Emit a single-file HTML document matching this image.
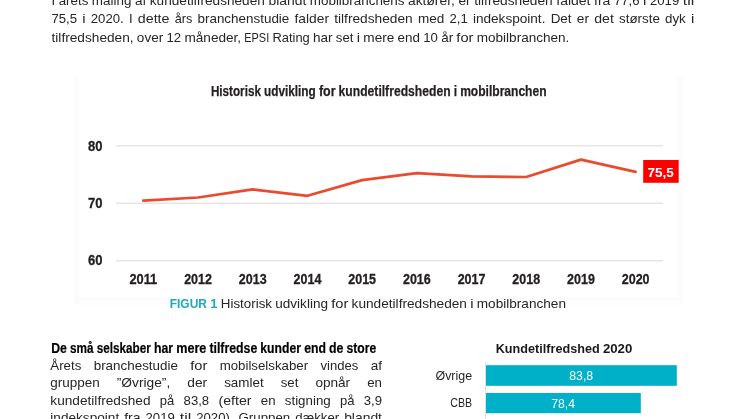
<!DOCTYPE html>
<html><head><meta charset="utf-8"><style>
html,body{margin:0;padding:0;background:#fff;width:746px;height:419px;overflow:hidden}
svg{display:block;font-family:"Liberation Sans", sans-serif;will-change:transform}
</style></head><body>
<svg width="746" height="419" viewBox="0 0 746 419">
<text x="51.50" y="4.80" font-size="13.37" font-weight="normal" fill="#262626" textLength="3.64" lengthAdjust="spacingAndGlyphs">I</text><text x="58.69" y="4.80" font-size="13.37" font-weight="normal" fill="#262626" textLength="29.64" lengthAdjust="spacingAndGlyphs">årets</text><text x="91.89" y="4.80" font-size="13.37" font-weight="normal" fill="#262626" textLength="39.49" lengthAdjust="spacingAndGlyphs">måling</text><text x="134.93" y="4.80" font-size="13.37" font-weight="normal" fill="#262626" textLength="11.33" lengthAdjust="spacingAndGlyphs">af</text><text x="149.81" y="4.80" font-size="13.37" font-weight="normal" fill="#262626" textLength="115.04" lengthAdjust="spacingAndGlyphs">kundetilfredsheden</text><text x="268.41" y="4.80" font-size="13.37" font-weight="normal" fill="#262626" textLength="37.85" lengthAdjust="spacingAndGlyphs">blandt</text><text x="309.81" y="4.80" font-size="13.37" font-weight="normal" fill="#262626" textLength="94.67" lengthAdjust="spacingAndGlyphs">mobilbranchens</text><text x="408.03" y="4.80" font-size="13.37" font-weight="normal" fill="#262626" textLength="46.82" lengthAdjust="spacingAndGlyphs">aktører,</text><text x="458.40" y="4.80" font-size="13.37" font-weight="normal" fill="#262626" textLength="12.23" lengthAdjust="spacingAndGlyphs">er</text><text x="474.18" y="4.80" font-size="13.37" font-weight="normal" fill="#262626" textLength="78.51" lengthAdjust="spacingAndGlyphs">tilfredsheden</text><text x="556.24" y="4.80" font-size="13.37" font-weight="normal" fill="#262626" textLength="34.27" lengthAdjust="spacingAndGlyphs">faldet</text><text x="594.06" y="4.80" font-size="13.37" font-weight="normal" fill="#262626" textLength="16.37" lengthAdjust="spacingAndGlyphs">fra</text><text x="613.98" y="4.80" font-size="13.37" font-weight="normal" fill="#262626" textLength="25.58" lengthAdjust="spacingAndGlyphs">77,6</text><text x="643.11" y="4.80" font-size="13.37" font-weight="normal" fill="#262626" textLength="3.32" lengthAdjust="spacingAndGlyphs">i</text><text x="649.98" y="4.80" font-size="13.37" font-weight="normal" fill="#262626" textLength="29.30" lengthAdjust="spacingAndGlyphs">2019</text><text x="682.83" y="4.80" font-size="13.37" font-weight="normal" fill="#262626" textLength="11.47" lengthAdjust="spacingAndGlyphs">til</text>
<text x="51.50" y="22.90" font-size="13.37" font-weight="normal" fill="#262626" textLength="25.58" lengthAdjust="spacingAndGlyphs">75,5</text><text x="82.29" y="22.90" font-size="13.37" font-weight="normal" fill="#262626" textLength="3.32" lengthAdjust="spacingAndGlyphs">i</text><text x="90.81" y="22.90" font-size="13.37" font-weight="normal" fill="#262626" textLength="32.94" lengthAdjust="spacingAndGlyphs">2020.</text><text x="128.96" y="22.90" font-size="13.37" font-weight="normal" fill="#262626" textLength="3.64" lengthAdjust="spacingAndGlyphs">I</text><text x="137.82" y="22.90" font-size="13.37" font-weight="normal" fill="#262626" textLength="31.65" lengthAdjust="spacingAndGlyphs">dette</text><text x="174.68" y="22.90" font-size="13.37" font-weight="normal" fill="#262626" textLength="17.61" lengthAdjust="spacingAndGlyphs">års</text><text x="197.50" y="22.90" font-size="13.37" font-weight="normal" fill="#262626" textLength="91.81" lengthAdjust="spacingAndGlyphs">branchenstudie</text><text x="294.51" y="22.90" font-size="13.37" font-weight="normal" fill="#262626" textLength="34.47" lengthAdjust="spacingAndGlyphs">falder</text><text x="334.19" y="22.90" font-size="13.37" font-weight="normal" fill="#262626" textLength="78.51" lengthAdjust="spacingAndGlyphs">tilfredsheden</text><text x="417.91" y="22.90" font-size="13.37" font-weight="normal" fill="#262626" textLength="26.32" lengthAdjust="spacingAndGlyphs">med</text><text x="449.44" y="22.90" font-size="13.37" font-weight="normal" fill="#262626" textLength="18.25" lengthAdjust="spacingAndGlyphs">2,1</text><text x="472.91" y="22.90" font-size="13.37" font-weight="normal" fill="#262626" textLength="72.52" lengthAdjust="spacingAndGlyphs">indekspoint.</text><text x="550.63" y="22.90" font-size="13.37" font-weight="normal" fill="#262626" textLength="20.92" lengthAdjust="spacingAndGlyphs">Det</text><text x="576.76" y="22.90" font-size="13.37" font-weight="normal" fill="#262626" textLength="12.23" lengthAdjust="spacingAndGlyphs">er</text><text x="594.20" y="22.90" font-size="13.37" font-weight="normal" fill="#262626" textLength="19.62" lengthAdjust="spacingAndGlyphs">det</text><text x="619.03" y="22.90" font-size="13.37" font-weight="normal" fill="#262626" textLength="40.83" lengthAdjust="spacingAndGlyphs">største</text><text x="665.07" y="22.90" font-size="13.37" font-weight="normal" fill="#262626" textLength="20.70" lengthAdjust="spacingAndGlyphs">dyk</text><text x="690.98" y="22.90" font-size="13.37" font-weight="normal" fill="#262626" textLength="3.32" lengthAdjust="spacingAndGlyphs">i</text>
<text x="51.50" y="41.70" font-size="13.37" font-weight="normal" fill="#262626" textLength="82.11" lengthAdjust="spacingAndGlyphs">tilfredsheden,</text><text x="136.88" y="41.70" font-size="13.37" font-weight="normal" fill="#262626" textLength="26.37" lengthAdjust="spacingAndGlyphs">over</text><text x="166.52" y="41.70" font-size="13.37" font-weight="normal" fill="#262626" textLength="14.65" lengthAdjust="spacingAndGlyphs">12</text><text x="184.44" y="41.70" font-size="13.37" font-weight="normal" fill="#262626" textLength="56.67" lengthAdjust="spacingAndGlyphs">måneder,</text><text x="244.37" y="41.70" font-size="13.37" font-weight="normal" fill="#262626" textLength="24.80" lengthAdjust="spacingAndGlyphs">EPSI</text><text x="272.44" y="41.70" font-size="13.37" font-weight="normal" fill="#262626" textLength="37.32" lengthAdjust="spacingAndGlyphs">Rating</text><text x="313.03" y="41.70" font-size="13.37" font-weight="normal" fill="#262626" textLength="19.55" lengthAdjust="spacingAndGlyphs">har</text><text x="335.84" y="41.70" font-size="13.37" font-weight="normal" fill="#262626" textLength="17.68" lengthAdjust="spacingAndGlyphs">set</text><text x="356.79" y="41.70" font-size="13.37" font-weight="normal" fill="#262626" textLength="3.32" lengthAdjust="spacingAndGlyphs">i</text><text x="363.37" y="41.70" font-size="13.37" font-weight="normal" fill="#262626" textLength="30.96" lengthAdjust="spacingAndGlyphs">mere</text><text x="397.60" y="41.70" font-size="13.37" font-weight="normal" fill="#262626" textLength="22.37" lengthAdjust="spacingAndGlyphs">end</text><text x="423.24" y="41.70" font-size="13.37" font-weight="normal" fill="#262626" textLength="14.65" lengthAdjust="spacingAndGlyphs">10</text><text x="441.16" y="41.70" font-size="13.37" font-weight="normal" fill="#262626" textLength="11.96" lengthAdjust="spacingAndGlyphs">år</text><text x="456.38" y="41.70" font-size="13.37" font-weight="normal" fill="#262626" textLength="17.07" lengthAdjust="spacingAndGlyphs">for</text><text x="476.72" y="41.70" font-size="13.37" font-weight="normal" fill="#262626" textLength="92.66" lengthAdjust="spacingAndGlyphs">mobilbranchen.</text>
<rect x="74" y="75" width="608.5" height="229.6" fill="#fcfcfc"/>
<rect x="79" y="70" width="599" height="227" fill="#ffffff"/>
<text x="210.90" y="96.00" font-size="14.54" font-weight="bold" fill="#231f20" stroke="#231f20" stroke-width="0.25" textLength="50.03" lengthAdjust="spacingAndGlyphs">Historisk</text><text x="264.03" y="96.00" font-size="14.54" font-weight="bold" fill="#231f20" stroke="#231f20" stroke-width="0.25" textLength="51.74" lengthAdjust="spacingAndGlyphs">udvikling</text><text x="318.88" y="96.00" font-size="14.54" font-weight="bold" fill="#231f20" stroke="#231f20" stroke-width="0.25" textLength="16.62" lengthAdjust="spacingAndGlyphs">for</text><text x="338.60" y="96.00" font-size="14.54" font-weight="bold" fill="#231f20" stroke="#231f20" stroke-width="0.25" textLength="111.95" lengthAdjust="spacingAndGlyphs">kundetilfredsheden</text><text x="453.65" y="96.00" font-size="14.54" font-weight="bold" fill="#231f20" stroke="#231f20" stroke-width="0.25" textLength="3.39" lengthAdjust="spacingAndGlyphs">i</text><text x="460.14" y="96.00" font-size="14.54" font-weight="bold" fill="#231f20" stroke="#231f20" stroke-width="0.25" textLength="86.42" lengthAdjust="spacingAndGlyphs">mobilbranchen</text>
<line x1="116" y1="145.8" x2="663" y2="145.8" stroke="#ebe4e4" stroke-width="1.5"/>
<line x1="116" y1="203.3" x2="663" y2="203.3" stroke="#ebe4e4" stroke-width="1.5"/>
<line x1="116" y1="260.7" x2="663" y2="260.7" stroke="#ebe4e4" stroke-width="1.5"/>
<text x="88.00" y="150.60" font-size="14.83" font-weight="bold" fill="#231f20" text-anchor="start" stroke="#231f20" stroke-width="0.3" textLength="14.50" lengthAdjust="spacingAndGlyphs">80</text>
<text x="88.00" y="208.00" font-size="14.83" font-weight="bold" fill="#231f20" text-anchor="start" stroke="#231f20" stroke-width="0.3" textLength="14.50" lengthAdjust="spacingAndGlyphs">70</text>
<text x="88.00" y="265.40" font-size="14.83" font-weight="bold" fill="#231f20" text-anchor="start" stroke="#231f20" stroke-width="0.3" textLength="14.50" lengthAdjust="spacingAndGlyphs">60</text>
<polyline points="143.35,200.7 198.05,197.5 252.75,189.4 307.45,195.8 362.15,180.1 416.85,173.2 471.55,176.4 526.25,177.0 580.95,159.6 635.65,171.8" fill="none" stroke="#ea4b2f" stroke-width="2.75" stroke-linejoin="round" stroke-linecap="round"/>
<rect x="643.2" y="160" width="35.5" height="22.8" fill="#ff0000"/>
<text x="647.60" y="176.90" font-size="13.66" font-weight="bold" fill="#ffffff" text-anchor="start" textLength="26.20" lengthAdjust="spacingAndGlyphs">75,5</text>
<text x="143.35" y="284.30" font-size="14.24" font-weight="bold" fill="#231f20" text-anchor="middle" stroke="#231f20" stroke-width="0.3" textLength="27.80" lengthAdjust="spacingAndGlyphs">2011</text>
<text x="198.05" y="284.30" font-size="14.24" font-weight="bold" fill="#231f20" text-anchor="middle" stroke="#231f20" stroke-width="0.3" textLength="27.80" lengthAdjust="spacingAndGlyphs">2012</text>
<text x="252.75" y="284.30" font-size="14.24" font-weight="bold" fill="#231f20" text-anchor="middle" stroke="#231f20" stroke-width="0.3" textLength="27.80" lengthAdjust="spacingAndGlyphs">2013</text>
<text x="307.45" y="284.30" font-size="14.24" font-weight="bold" fill="#231f20" text-anchor="middle" stroke="#231f20" stroke-width="0.3" textLength="27.80" lengthAdjust="spacingAndGlyphs">2014</text>
<text x="362.15" y="284.30" font-size="14.24" font-weight="bold" fill="#231f20" text-anchor="middle" stroke="#231f20" stroke-width="0.3" textLength="27.80" lengthAdjust="spacingAndGlyphs">2015</text>
<text x="416.85" y="284.30" font-size="14.24" font-weight="bold" fill="#231f20" text-anchor="middle" stroke="#231f20" stroke-width="0.3" textLength="27.80" lengthAdjust="spacingAndGlyphs">2016</text>
<text x="471.55" y="284.30" font-size="14.24" font-weight="bold" fill="#231f20" text-anchor="middle" stroke="#231f20" stroke-width="0.3" textLength="27.80" lengthAdjust="spacingAndGlyphs">2017</text>
<text x="526.25" y="284.30" font-size="14.24" font-weight="bold" fill="#231f20" text-anchor="middle" stroke="#231f20" stroke-width="0.3" textLength="27.80" lengthAdjust="spacingAndGlyphs">2018</text>
<text x="580.95" y="284.30" font-size="14.24" font-weight="bold" fill="#231f20" text-anchor="middle" stroke="#231f20" stroke-width="0.3" textLength="27.80" lengthAdjust="spacingAndGlyphs">2019</text>
<text x="635.65" y="284.30" font-size="14.24" font-weight="bold" fill="#231f20" text-anchor="middle" stroke="#231f20" stroke-width="0.3" textLength="27.80" lengthAdjust="spacingAndGlyphs">2020</text>
<text x="169.70" y="307.60" font-size="12.94" font-weight="bold" fill="#1ba9c3" textLength="37.28" lengthAdjust="spacingAndGlyphs">FIGUR</text><text x="210.26" y="307.60" font-size="12.94" font-weight="bold" fill="#1ba9c3" textLength="7.34" lengthAdjust="spacingAndGlyphs">1</text><text x="220.87" y="307.60" font-size="12.94" font-weight="normal" fill="#262626" textLength="51.11" lengthAdjust="spacingAndGlyphs">Historisk</text><text x="275.25" y="307.60" font-size="12.94" font-weight="normal" fill="#262626" textLength="52.73" lengthAdjust="spacingAndGlyphs">udvikling</text><text x="331.26" y="307.60" font-size="12.94" font-weight="normal" fill="#262626" textLength="17.10" lengthAdjust="spacingAndGlyphs">for</text><text x="351.63" y="307.60" font-size="12.94" font-weight="normal" fill="#262626" textLength="115.28" lengthAdjust="spacingAndGlyphs">kundetilfredsheden</text><text x="470.19" y="307.60" font-size="12.94" font-weight="normal" fill="#262626" textLength="3.32" lengthAdjust="spacingAndGlyphs">i</text><text x="476.78" y="307.60" font-size="12.94" font-weight="normal" fill="#262626" textLength="89.20" lengthAdjust="spacingAndGlyphs">mobilbranchen</text>
<text x="51.20" y="352.50" font-size="14.10" font-weight="bold" fill="#000000" stroke="#000000" stroke-width="0.2" textLength="15.68" lengthAdjust="spacingAndGlyphs">De</text><text x="70.01" y="352.50" font-size="14.10" font-weight="bold" fill="#000000" stroke="#000000" stroke-width="0.2" textLength="23.60" lengthAdjust="spacingAndGlyphs">små</text><text x="96.74" y="352.50" font-size="14.10" font-weight="bold" fill="#000000" stroke="#000000" stroke-width="0.2" textLength="54.11" lengthAdjust="spacingAndGlyphs">selskaber</text><text x="153.97" y="352.50" font-size="14.10" font-weight="bold" fill="#000000" stroke="#000000" stroke-width="0.2" textLength="19.13" lengthAdjust="spacingAndGlyphs">har</text><text x="176.23" y="352.50" font-size="14.10" font-weight="bold" fill="#000000" stroke="#000000" stroke-width="0.2" textLength="30.11" lengthAdjust="spacingAndGlyphs">mere</text><text x="209.46" y="352.50" font-size="14.10" font-weight="bold" fill="#000000" stroke="#000000" stroke-width="0.2" textLength="47.76" lengthAdjust="spacingAndGlyphs">tilfredse</text><text x="260.34" y="352.50" font-size="14.10" font-weight="bold" fill="#000000" stroke="#000000" stroke-width="0.2" textLength="40.68" lengthAdjust="spacingAndGlyphs">kunder</text><text x="304.15" y="352.50" font-size="14.10" font-weight="bold" fill="#000000" stroke="#000000" stroke-width="0.2" textLength="21.76" lengthAdjust="spacingAndGlyphs">end</text><text x="329.03" y="352.50" font-size="14.10" font-weight="bold" fill="#000000" stroke="#000000" stroke-width="0.2" textLength="14.36" lengthAdjust="spacingAndGlyphs">de</text><text x="346.51" y="352.50" font-size="14.10" font-weight="bold" fill="#000000" stroke="#000000" stroke-width="0.2" textLength="29.65" lengthAdjust="spacingAndGlyphs">store</text>
<text x="50.30" y="369.80" font-size="13.37" font-weight="normal" fill="#262626" textLength="31.08" lengthAdjust="spacingAndGlyphs">Årets</text><text x="93.71" y="369.80" font-size="13.37" font-weight="normal" fill="#262626" textLength="84.22" lengthAdjust="spacingAndGlyphs">branchestudie</text><text x="190.25" y="369.80" font-size="13.37" font-weight="normal" fill="#262626" textLength="17.07" lengthAdjust="spacingAndGlyphs">for</text><text x="219.64" y="369.80" font-size="13.37" font-weight="normal" fill="#262626" textLength="88.51" lengthAdjust="spacingAndGlyphs">mobilselskaber</text><text x="320.47" y="369.80" font-size="13.37" font-weight="normal" fill="#262626" textLength="37.87" lengthAdjust="spacingAndGlyphs">vindes</text><text x="370.67" y="369.80" font-size="13.37" font-weight="normal" fill="#262626" textLength="11.33" lengthAdjust="spacingAndGlyphs">af</text>
<text x="50.30" y="387.20" font-size="13.37" font-weight="normal" fill="#262626" textLength="49.40" lengthAdjust="spacingAndGlyphs">gruppen</text><text x="116.75" y="387.20" font-size="13.37" font-weight="normal" fill="#262626" textLength="53.49" lengthAdjust="spacingAndGlyphs">”Øvrige”,</text><text x="187.29" y="387.20" font-size="13.37" font-weight="normal" fill="#262626" textLength="19.82" lengthAdjust="spacingAndGlyphs">der</text><text x="224.16" y="387.20" font-size="13.37" font-weight="normal" fill="#262626" textLength="39.46" lengthAdjust="spacingAndGlyphs">samlet</text><text x="280.67" y="387.20" font-size="13.37" font-weight="normal" fill="#262626" textLength="17.68" lengthAdjust="spacingAndGlyphs">set</text><text x="315.40" y="387.20" font-size="13.37" font-weight="normal" fill="#262626" textLength="34.76" lengthAdjust="spacingAndGlyphs">opnår</text><text x="367.22" y="387.20" font-size="13.37" font-weight="normal" fill="#262626" textLength="14.78" lengthAdjust="spacingAndGlyphs">en</text>
<text x="50.30" y="404.60" font-size="13.37" font-weight="normal" fill="#262626" textLength="100.26" lengthAdjust="spacingAndGlyphs">kundetilfredshed</text><text x="159.82" y="404.60" font-size="13.37" font-weight="normal" fill="#262626" textLength="14.51" lengthAdjust="spacingAndGlyphs">på</text><text x="183.60" y="404.60" font-size="13.37" font-weight="normal" fill="#262626" textLength="25.58" lengthAdjust="spacingAndGlyphs">83,8</text><text x="218.44" y="404.60" font-size="13.37" font-weight="normal" fill="#262626" textLength="33.06" lengthAdjust="spacingAndGlyphs">(efter</text><text x="260.75" y="404.60" font-size="13.37" font-weight="normal" fill="#262626" textLength="14.78" lengthAdjust="spacingAndGlyphs">en</text><text x="284.80" y="404.60" font-size="13.37" font-weight="normal" fill="#262626" textLength="45.91" lengthAdjust="spacingAndGlyphs">stigning</text><text x="339.97" y="404.60" font-size="13.37" font-weight="normal" fill="#262626" textLength="14.51" lengthAdjust="spacingAndGlyphs">på</text><text x="363.75" y="404.60" font-size="13.37" font-weight="normal" fill="#262626" textLength="18.25" lengthAdjust="spacingAndGlyphs">3,9</text>
<text x="50.30" y="422.00" font-size="13.37" font-weight="normal" fill="#262626" textLength="68.87" lengthAdjust="spacingAndGlyphs">indekspoint</text><text x="124.15" y="422.00" font-size="13.37" font-weight="normal" fill="#262626" textLength="16.37" lengthAdjust="spacingAndGlyphs">fra</text><text x="145.50" y="422.00" font-size="13.37" font-weight="normal" fill="#262626" textLength="29.30" lengthAdjust="spacingAndGlyphs">2019</text><text x="179.78" y="422.00" font-size="13.37" font-weight="normal" fill="#262626" textLength="11.47" lengthAdjust="spacingAndGlyphs">til</text><text x="196.23" y="422.00" font-size="13.37" font-weight="normal" fill="#262626" textLength="37.33" lengthAdjust="spacingAndGlyphs">2020).</text><text x="238.54" y="422.00" font-size="13.37" font-weight="normal" fill="#262626" textLength="51.71" lengthAdjust="spacingAndGlyphs">Gruppen</text><text x="295.24" y="422.00" font-size="13.37" font-weight="normal" fill="#262626" textLength="43.93" lengthAdjust="spacingAndGlyphs">dækker</text><text x="344.15" y="422.00" font-size="13.37" font-weight="normal" fill="#262626" textLength="37.85" lengthAdjust="spacingAndGlyphs">blandt</text>
<text x="495.70" y="352.60" font-size="12.94" font-weight="bold" fill="#1a1a1a" textLength="103.96" lengthAdjust="spacingAndGlyphs">Kundetilfredshed</text><text x="602.93" y="352.60" font-size="12.94" font-weight="bold" fill="#1a1a1a" textLength="29.38" lengthAdjust="spacingAndGlyphs">2020</text>
<line x1="485.5" y1="362" x2="485.5" y2="419" stroke="#e6dede" stroke-width="1"/>
<rect x="486" y="365.2" width="190.8" height="20.6" fill="#00afc8"/>
<rect x="486" y="393" width="154.8" height="20.2" fill="#00afc8"/>
<text x="472.10" y="379.70" font-size="12.50" font-weight="normal" fill="#231f20" text-anchor="end" textLength="36.60" lengthAdjust="spacingAndGlyphs">Øvrige</text>
<text x="472.10" y="406.80" font-size="12.50" font-weight="normal" fill="#231f20" text-anchor="end" textLength="21.80" lengthAdjust="spacingAndGlyphs">CBB</text>
<text x="581.20" y="380.40" font-size="13.08" font-weight="normal" fill="#ffffff" text-anchor="middle" textLength="24.00" lengthAdjust="spacingAndGlyphs">83,8</text>
<text x="563.10" y="408.30" font-size="13.08" font-weight="normal" fill="#ffffff" text-anchor="middle" textLength="23.80" lengthAdjust="spacingAndGlyphs">78,4</text>
</svg></body></html>
